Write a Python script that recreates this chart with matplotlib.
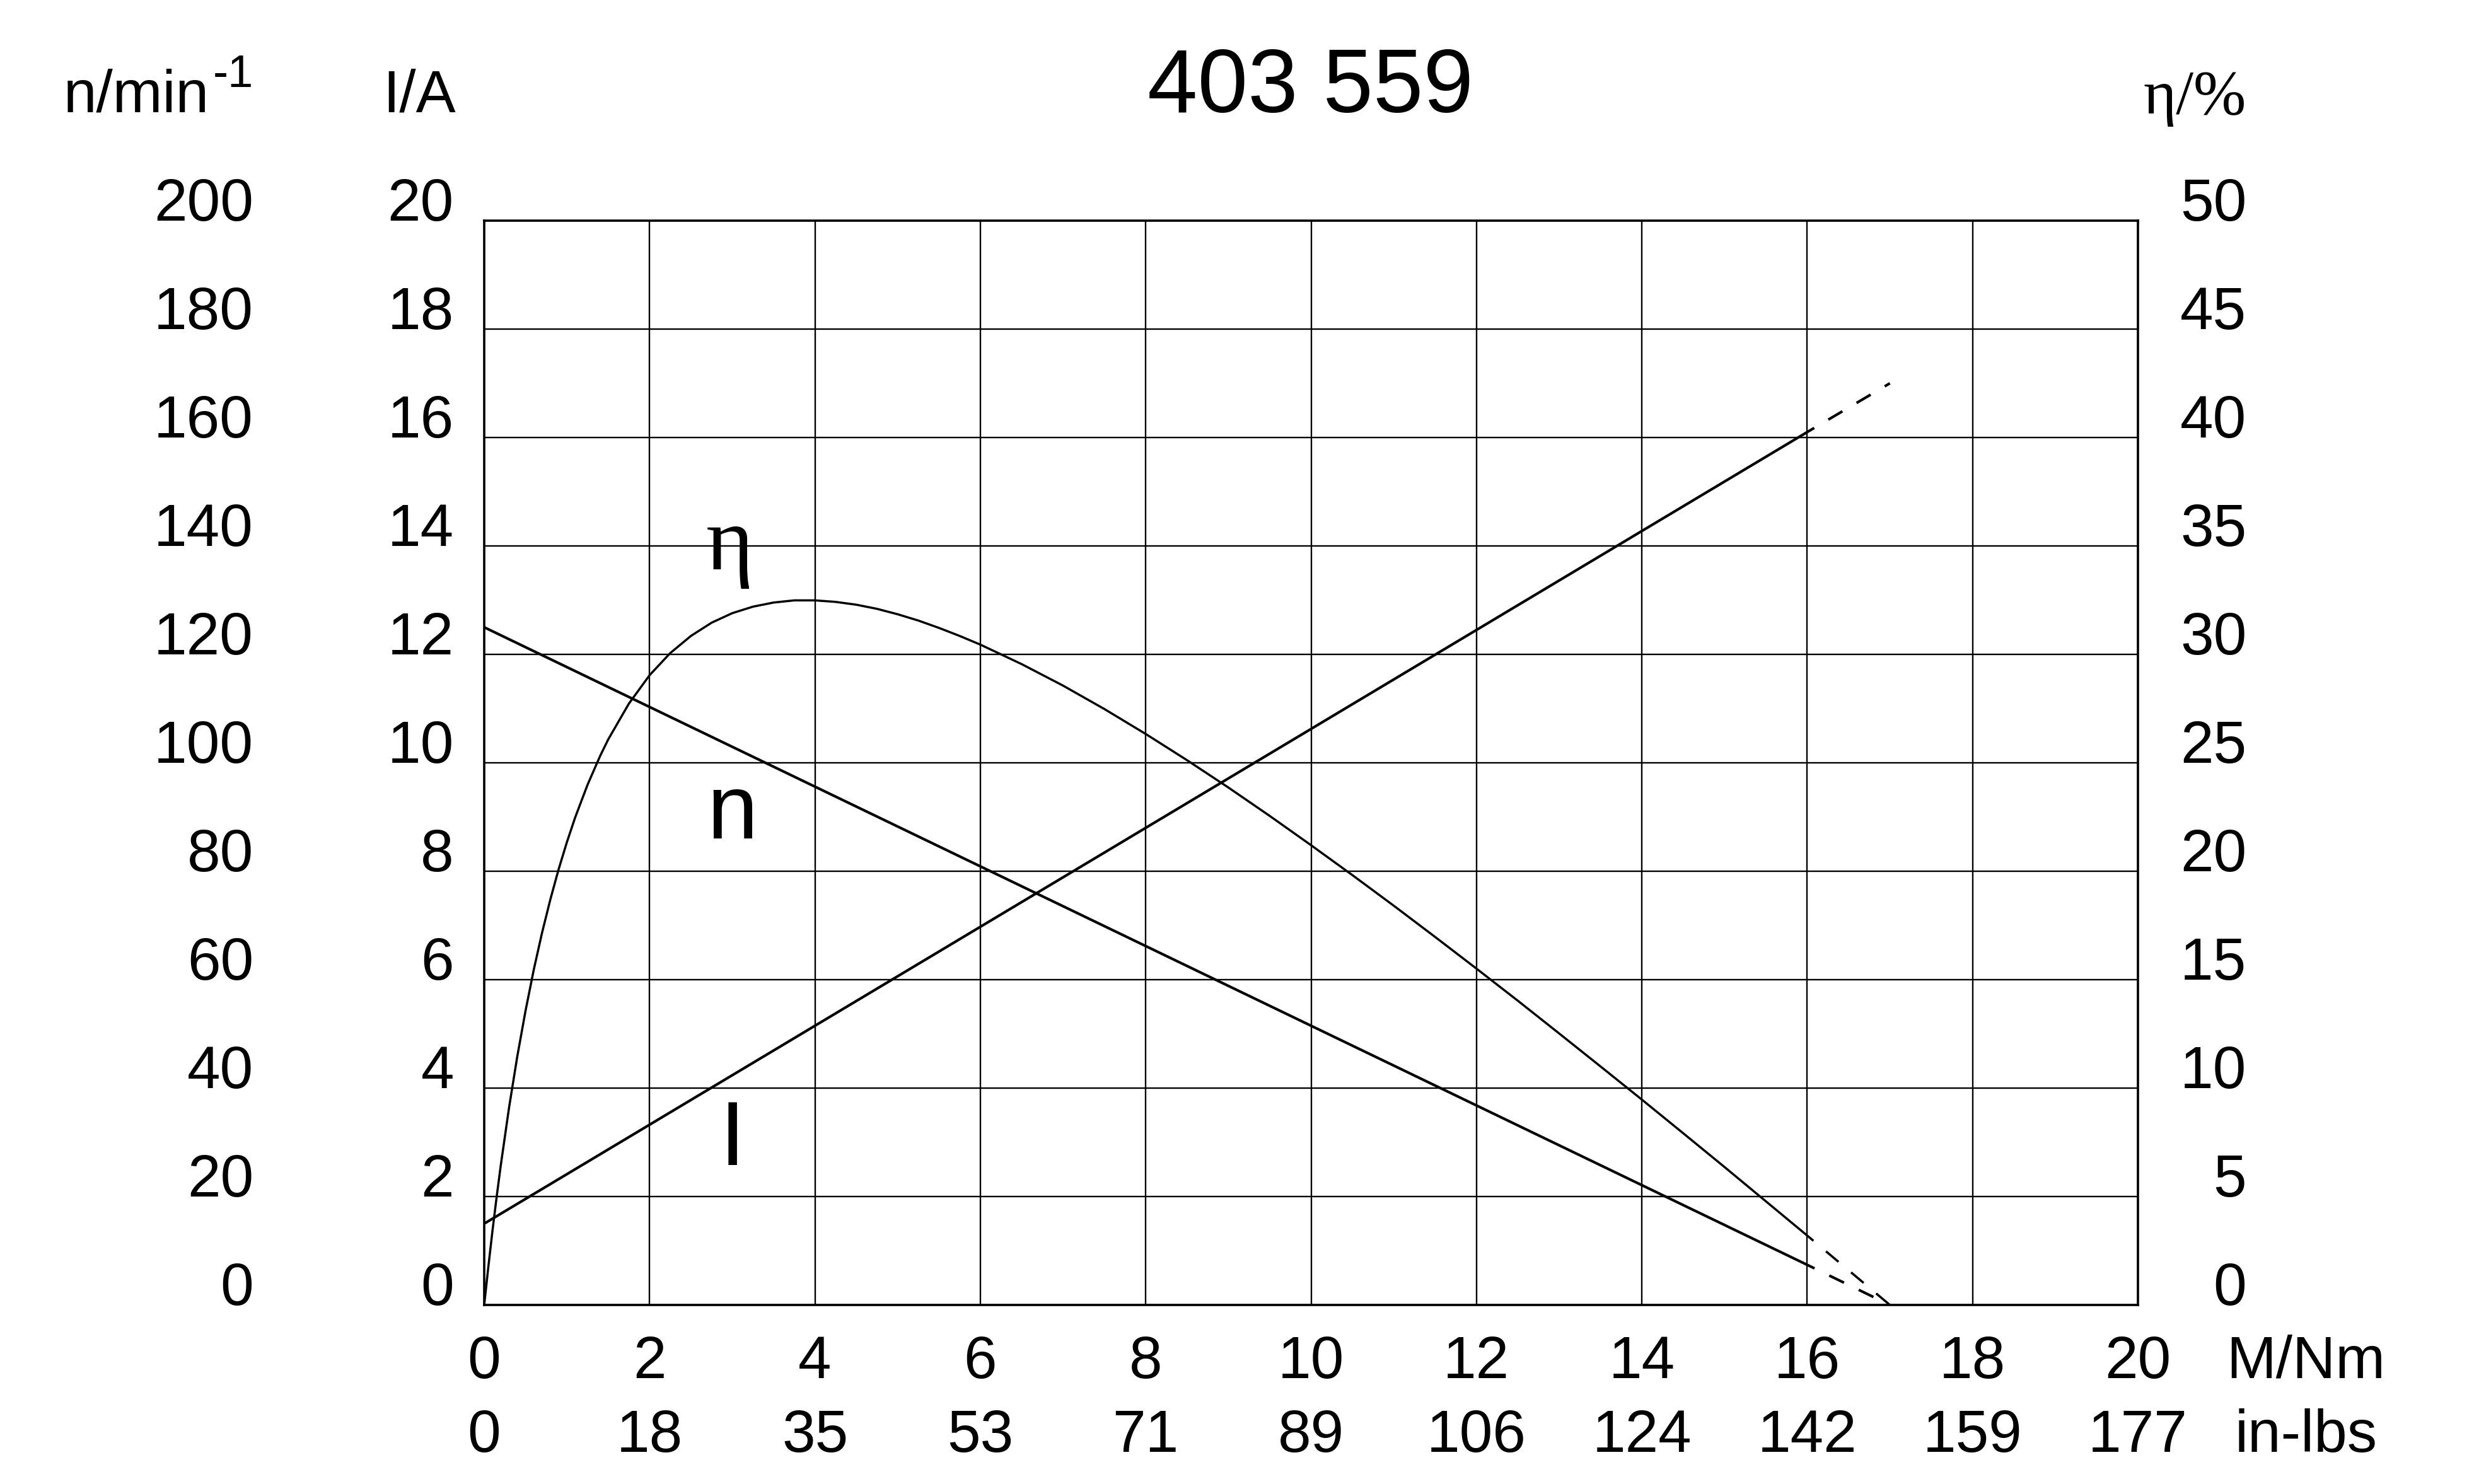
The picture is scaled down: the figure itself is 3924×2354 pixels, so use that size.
import matplotlib
matplotlib.use('Agg')
import matplotlib.pyplot as plt

# ---------------- data ----------------
torque_ticks = [0, 2, 4, 6, 8, 10, 12, 14, 16, 18, 20]
torque_labels = ['0', '2', '4', '6', '8', '10', '12', '14', '16', '18', '20']
inlbs_labels = ['0', '18', '35', '53', '71', '89', '106', '124', '142', '159', '177']
current_ticks = [0, 2, 4, 6, 8, 10, 12, 14, 16, 18, 20]
speed_ticks = [0, 20, 40, 60, 80, 100, 120, 140, 160, 180, 200]
eff_ticks = [0, 5, 10, 15, 20, 25, 30, 35, 40, 45, 50]

# speed n (1/min) vs torque M (Nm)
speed_torque = [0.0, 16.0]
speed_values = [125.0, 7.4]
speed_ext_torque = [16.0, 17.0]
speed_ext_values = [7.4, 0.0]

# current I (A) vs torque
current_torque = [0.0, 16.0]
current_values = [1.5, 16.1]
current_ext_torque = [16.0, 17.0]
current_ext_values = [16.1, 17.0]

# efficiency eta (%) vs torque
eff_torque = [0.0, 0.05, 0.1, 0.15, 0.2, 0.3, 0.4, 0.5, 0.6, 0.7, 0.8, 0.9, 1.0,
              1.1, 1.25, 1.4, 1.5, 1.75, 2.0, 2.25, 2.5, 2.75, 3.0, 3.25, 3.5,
              3.75, 4.0, 4.25, 4.5, 4.75, 5.0, 5.25, 5.5, 5.75, 6.0, 6.5, 7.0,
              7.5, 8.0, 8.5, 9.0, 9.5, 10.0, 10.5, 11.0, 11.5, 12.0, 12.5,
              13.0, 13.5, 14.0, 14.5, 15.0, 15.5, 16.0]
eff_values = [0.0, 1.76, 3.42, 4.97, 6.43, 9.09, 11.46, 13.57, 15.47, 17.17, 18.70, 20.09, 21.34,
              22.48, 23.99, 25.30, 26.08, 27.73, 29.04, 30.06, 30.85, 31.46, 31.90, 32.20, 32.39,
              32.49, 32.49, 32.42, 32.29, 32.10, 31.85, 31.56, 31.22, 30.85, 30.45, 29.55, 28.56,
              27.48, 26.33, 25.12, 23.86, 22.55, 21.20, 19.82, 18.41, 16.97, 15.51, 14.03,
              12.52, 11.00, 9.47, 7.92, 6.36, 4.78, 3.20]
eff_ext_torque = [16.0, 16.5, 17.0]
eff_ext_values = [3.20, 1.60, 0.0]

# ---------------- style ----------------
plt.rcParams['font.family'] = ['Liberation Sans', 'DejaVu Sans']
plt.rcParams['lines.scale_dashes'] = False
SERIF = ['Liberation Serif', 'DejaVu Serif']
FS = 68
W, H = 3924, 2354

fig = plt.figure(figsize=(W / 100, H / 100), dpi=100)
left, right, top, bottom = 768, 3391, 350, 2070
ax = fig.add_axes([left / W, (H - bottom) / H, (right - left) / W, (bottom - top) / H])

ax.set_xlim(0, 20)
ax.set_ylim(0, 20)
ax.set_xticks(torque_ticks, torque_labels)
ax.set_yticks(current_ticks, [str(v) for v in current_ticks])
ax.grid(True, color='black', linewidth=1.7)
ax.set_axisbelow(True)
for s in ax.spines.values():
    s.set_linewidth(2.6)
ax.tick_params(axis='both', length=0, labelsize=FS)
ax.tick_params(axis='x', pad=34)
ax.tick_params(axis='y', pad=34.6)
for t in ax.yaxis.get_major_ticks():
    t.label1.set_va('baseline')

# in-lbs second row
sec = ax.secondary_xaxis('bottom')
sec.set_xticks(torque_ticks, inlbs_labels)
sec.tick_params(length=0, pad=118, labelsize=FS)
sec.spines['bottom'].set_visible(False)

# speed axis (far left)
ax_n = ax.twinx()
ax_n.set_ylim(0, 200)
ax_n.yaxis.tick_left()
ax_n.set_yticks(speed_ticks, [str(v) for v in speed_ticks])
ax_n.tick_params(axis='y', length=0, pad=263.5, labelsize=FS)
for t in ax_n.yaxis.get_major_ticks():
    t.label1.set_va('baseline')
for s in ax_n.spines.values():
    s.set_visible(False)

# efficiency axis (right)
ax_e = ax.twinx()
ax_e.set_ylim(0, 50)
ax_e.set_yticks(eff_ticks, [str(v) for v in eff_ticks])
ax_e.tick_params(axis='y', length=0, pad=124, labelsize=FS)
for t in ax_e.yaxis.get_major_ticks():
    t.label2.set_va('baseline')
    t.label2.set_ha('right')
for s in ax_e.spines.values():
    s.set_visible(False)

dash = (9.4, (18.7, 18.7))
ax_n.plot(speed_torque, speed_values, color='black', lw=3.0, solid_capstyle='butt')
ax_n.plot(speed_ext_torque, speed_ext_values, color='black', lw=3.0, linestyle=dash)
ax.plot(current_torque, current_values, color='black', lw=3.0, solid_capstyle='butt')
ax.plot(current_ext_torque, current_ext_values, color='black', lw=3.0, linestyle=dash)
ax_e.plot(eff_torque, eff_values, color='black', lw=2.5, solid_capstyle='butt',
          solid_joinstyle='round')
ax_e.plot(eff_ext_torque, eff_ext_values, color='black', lw=2.6, linestyle=dash)

# curve labels
ax.text(2.97, 13.57, 'η', fontsize=104, family=SERIF, ha='center', va='baseline')
ax.text(3.0, 8.6, 'n', fontsize=104, ha='center', va='baseline')
ax.text(3.0, 2.58, 'I', fontsize=104, ha='center', va='baseline')

# header texts
fig.text(2078 / W, (H - 178) / H, '403 559', fontsize=103, ha='center', va='baseline')
fig.text(332 / W, (H - 178) / H, 'n/min', fontsize=FS, ha='right', va='baseline')
fig.text(338 / W, (H - 138) / H, '-1', fontsize=52, ha='left', va='baseline')
fig.text(723 / W, (H - 178) / H, 'I/A', fontsize=FS, ha='right', va='baseline')
fig.text(3563 / W, (H - 180) / H, 'η/%', fontsize=72, family=SERIF, ha='right', va='baseline')
fig.text(3531 / W, (H - 2186) / H, 'M/Nm', fontsize=FS, ha='left', va='baseline')
fig.text(3545 / W, (H - 2303) / H, 'in-lbs', fontsize=FS, ha='left', va='baseline')

fig.savefig('out.png', dpi=100, facecolor='white')
